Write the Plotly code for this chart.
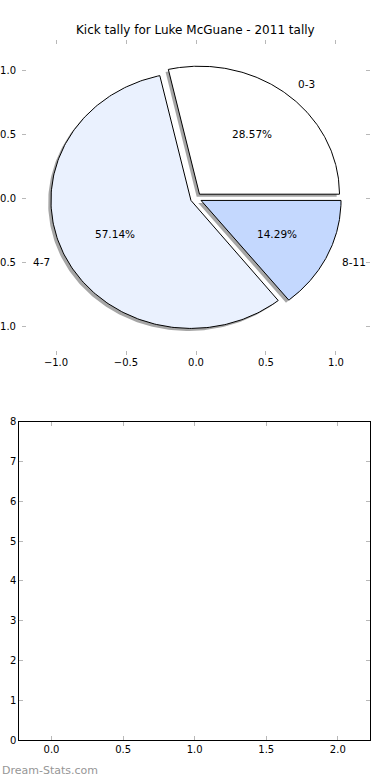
import numpy as np
import plotly.graph_objects as go

# ---- data ----
labels = ["0-3", "4-7", "8-11"]
counts = [2, 4, 1]
colors = ["#ffffff", "#eaf1fe", "#c4d8fe"]
explode = [0.04, 0.04, 0.04]
title = "Kick tally for Luke McGuane - 2011 tally"
pie_ticks = [-1.0, -0.5, 0.0, 0.5, 1.0]
bar_xticks = [0.0, 0.5, 1.0, 1.5, 2.0]
bar_yticks = [0, 1, 2, 3, 4, 5, 6, 7, 8]

W, H = 390, 780
FONT = "DejaVu Sans"
TICKC = "#b8b8b8"

fig = go.Figure()

total = float(sum(counts))
fracs = [c / total for c in counts]
shadow_traces = []
wedge_traces = []
annotations = []
theta = 0.0
for lab, frac, col, ex in zip(labels, fracs, colors, explode):
    t1 = theta
    t2 = theta + 2 * np.pi * frac
    tm = 0.5 * (t1 + t2)
    cx, cy = ex * np.cos(tm), ex * np.sin(tm)
    ang = np.linspace(t1, t2, 200)
    xs = np.concatenate([[cx], cx + np.cos(ang), [cx]])
    ys = np.concatenate([[cy], cy + np.sin(ang), [cy]])
    shadow_traces.append(go.Scatter(x=xs - 0.02, y=ys - 0.02, mode="lines", fill="toself",
                                    fillcolor="rgba(77,77,77,0.5)", line=dict(width=0),
                                    hoverinfo="skip", xaxis="x", yaxis="y"))
    wedge_traces.append(go.Scatter(x=xs, y=ys, mode="lines", fill="toself",
                                   fillcolor=col, line=dict(color="black", width=1),
                                   hoverinfo="skip", xaxis="x", yaxis="y"))
    lx, ly = cx + 1.1 * np.cos(tm), cy + 1.1 * np.sin(tm)
    annotations.append(dict(x=lx, y=ly, xref="x", yref="y", text=lab, showarrow=False,
                            xanchor="left" if lx > 0 else "right", yanchor="middle",
                            font=dict(family=FONT, size=10.5, color="black")))
    px, py = cx + 0.6 * np.cos(tm), cy + 0.6 * np.sin(tm)
    annotations.append(dict(x=px, y=py, xref="x", yref="y", text="%.2f%%" % (frac * 100),
                            showarrow=False, xanchor="center", yanchor="middle",
                            font=dict(family=FONT, size=10.5, color="black")))
    theta = t2

for t in shadow_traces + wedge_traces:
    fig.add_trace(t)

# empty bottom subplot
fig.add_trace(go.Scatter(x=[], y=[], xaxis="x2", yaxis="y2", mode="markers"))

annotations.append(dict(x=0.5, y=1 - 30 / H, xref="paper", yref="paper", text=title,
                        showarrow=False, xanchor="center", yanchor="middle",
                        font=dict(family=FONT, size=12, color="black")))
annotations.append(dict(x=0.0, y=1 - 770 / H, xref="paper", yref="paper", text="Dream-Stats.com",
                        showarrow=False, xanchor="left", yanchor="middle",
                        font=dict(family=FONT, size=11, color="#969696")))

tick_common = dict(ticks="inside", ticklen=4, tickcolor=TICKC, tickwidth=1,
                   showgrid=False, zeroline=False, automargin=False,
                   tickfont=dict(family=FONT, size=10, color="black"))

fig.update_layout(
    width=W, height=H,
    margin=dict(l=0, r=0, t=0, b=0, autoexpand=False),
    paper_bgcolor="white", plot_bgcolor="rgba(0,0,0,0)",
    showlegend=False, hovermode=False,
    annotations=annotations,
    xaxis=dict(domain=[22 / W, 370 / W], range=[-1.243, 1.243], tickvals=pie_ticks,
               tickformat=".1f", showline=False, mirror="ticks", anchor="y", **tick_common),
    yaxis=dict(domain=[1 - 355 / H, 1 - 40 / H], range=[-1.225, 1.236], tickvals=pie_ticks,
               tickformat=".1f", showline=False, mirror="ticks", anchor="x",
               ticklabelstandoff=5, **tick_common),
    xaxis2=dict(domain=[19.3 / W, 370 / W], range=[-0.225, 2.225], tickvals=bar_xticks,
                tickformat=".1f", showline=True, linecolor="black", linewidth=1, mirror="ticks",
                anchor="y2", **tick_common),
    yaxis2=dict(domain=[1 - 740 / H, 1 - 421.7 / H], range=[0, 8], tickvals=bar_yticks,
                showline=True, linecolor="black", linewidth=1, mirror="ticks",
                anchor="x2", **tick_common),
)

fig.write_html("out.html", config={"displayModeBar": False},
               post_script="document.body.style.margin='0';document.body.style.overflow='hidden';")
